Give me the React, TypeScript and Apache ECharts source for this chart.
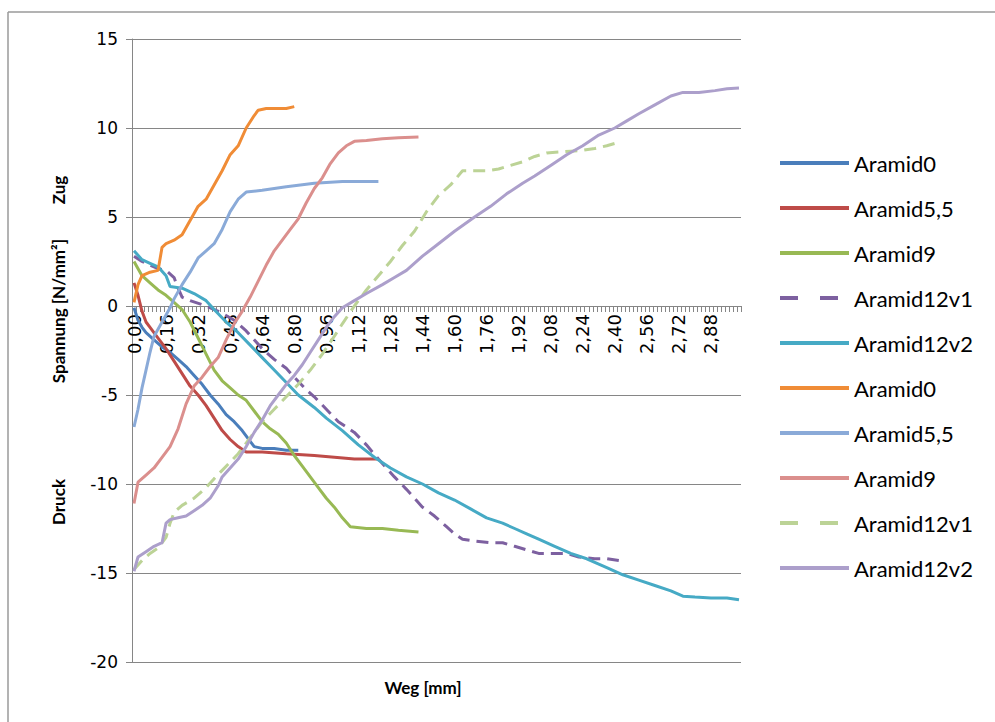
import React, { useEffect, useRef } from "react";
import * as echarts from "echarts";

// x categories (Weg [mm]) step 0.02, labels every 0.16
const categories: string[] = [];
for (let i = 0; i <= 151; i++) categories.push((i * 0.02).toFixed(2).replace(".", ","));

const yTicks = { min: -20, max: 15, interval: 5 };

// [Weg, Spannung]
const aramid0a: number[][] = [
  [0.0, -0.1], [0.02, -0.8], [0.04, -1.2], [0.06, -1.5], [0.1, -1.9], [0.14, -2.3], [0.18, -2.6],
  [0.22, -3.0], [0.26, -3.4], [0.3, -3.9], [0.34, -4.4], [0.38, -5.0], [0.42, -5.5], [0.46, -6.1],
  [0.5, -6.5], [0.54, -7.0], [0.58, -7.6], [0.6, -7.9], [0.64, -8.0], [0.7, -8.0], [0.76, -8.1], [0.82, -8.1],
];
const aramid55a: number[][] = [
  [0.0, 1.3], [0.02, 0.6], [0.04, -0.3], [0.06, -0.9], [0.08, -1.2], [0.12, -1.8], [0.16, -2.4],
  [0.2, -3.1], [0.24, -3.8], [0.28, -4.5], [0.32, -5.0], [0.36, -5.6], [0.4, -6.3], [0.44, -7.0],
  [0.48, -7.5], [0.52, -7.9], [0.56, -8.2], [0.64, -8.2], [0.76, -8.3], [0.9, -8.4], [1.0, -8.5],
  [1.1, -8.6], [1.22, -8.6],
];
const aramid9a: number[][] = [
  [0.0, 2.5], [0.04, 1.7], [0.08, 1.3], [0.12, 0.9], [0.16, 0.6], [0.2, 0.2], [0.24, -0.2],
  [0.28, -0.9], [0.32, -1.8], [0.36, -2.7], [0.4, -3.6], [0.44, -4.2], [0.48, -4.6], [0.52, -5.0],
  [0.56, -5.3], [0.6, -5.9], [0.64, -6.5], [0.68, -6.9], [0.72, -7.2], [0.76, -7.7], [0.8, -8.4],
  [0.84, -9.0], [0.88, -9.6], [0.92, -10.2], [0.96, -10.8], [1.0, -11.3], [1.04, -11.9], [1.08, -12.4],
  [1.16, -12.5], [1.24, -12.5], [1.32, -12.6], [1.42, -12.7],
];
const aramid12v1a: number[][] = [
  [0.0, 2.8], [0.04, 2.5], [0.08, 2.3], [0.12, 2.1], [0.16, 2.0], [0.2, 1.6], [0.22, 1.0], [0.24, 0.5],
  [0.28, 0.3], [0.36, 0.0], [0.44, -0.4], [0.5, -0.8], [0.56, -1.4], [0.6, -1.9], [0.64, -2.4],
  [0.7, -3.0], [0.76, -3.5], [0.8, -4.0], [0.86, -4.7], [0.9, -5.1], [0.96, -5.8], [1.02, -6.5],
  [1.1, -7.1], [1.16, -7.8], [1.22, -8.6], [1.3, -9.6], [1.36, -10.3], [1.44, -11.3], [1.5, -11.8],
  [1.56, -12.4], [1.6, -12.8], [1.64, -13.1], [1.7, -13.2], [1.78, -13.3], [1.84, -13.3], [1.9, -13.5],
  [1.96, -13.7], [2.02, -13.9], [2.1, -13.9], [2.16, -13.9], [2.22, -14.1], [2.3, -14.2], [2.36, -14.2],
  [2.42, -14.3],
];
const aramid12v2a: number[][] = [
  [0.0, 3.1], [0.04, 2.6], [0.08, 2.4], [0.12, 2.2], [0.16, 1.7], [0.18, 1.1], [0.24, 1.0], [0.3, 0.7],
  [0.36, 0.3], [0.4, -0.2], [0.46, -0.9], [0.52, -1.5], [0.58, -2.2], [0.64, -2.9], [0.7, -3.6],
  [0.76, -4.3], [0.82, -5.0], [0.9, -5.7], [0.96, -6.3], [1.04, -7.0], [1.12, -7.8], [1.2, -8.5],
  [1.28, -9.1], [1.36, -9.6], [1.44, -10.0], [1.52, -10.5], [1.6, -10.9], [1.68, -11.4], [1.76, -11.9],
  [1.84, -12.2], [1.9, -12.5], [1.96, -12.8], [2.02, -13.1], [2.1, -13.5], [2.18, -13.9], [2.26, -14.2],
  [2.36, -14.7], [2.44, -15.1], [2.52, -15.4], [2.6, -15.7], [2.68, -16.0], [2.74, -16.3], [2.8, -16.35],
  [2.88, -16.4], [2.96, -16.4], [3.02, -16.5],
];
const aramid0b: number[][] = [
  [0.0, 0.2], [0.02, 1.2], [0.04, 1.7], [0.08, 1.9], [0.12, 2.0], [0.14, 3.3], [0.16, 3.5], [0.2, 3.7],
  [0.24, 4.0], [0.28, 4.8], [0.32, 5.6], [0.36, 6.0], [0.4, 6.8], [0.44, 7.6], [0.48, 8.5], [0.52, 9.0],
  [0.56, 10.0], [0.6, 10.7], [0.62, 11.0], [0.66, 11.1], [0.72, 11.1], [0.76, 11.1], [0.8, 11.2],
];
const aramid55b: number[][] = [
  [0.0, -6.8], [0.02, -5.8], [0.04, -4.6], [0.06, -3.6], [0.08, -2.6], [0.1, -1.7], [0.12, -1.3],
  [0.14, -0.9], [0.16, -0.5], [0.18, -0.1], [0.2, 0.4], [0.24, 1.2], [0.28, 1.9], [0.32, 2.7],
  [0.36, 3.1], [0.4, 3.5], [0.44, 4.3], [0.48, 5.3], [0.52, 6.0], [0.56, 6.4], [0.64, 6.5], [0.76, 6.7],
  [0.9, 6.9], [1.04, 7.0], [1.22, 7.0],
];
const aramid9b: number[][] = [
  [0.0, -11.1], [0.02, -9.9], [0.06, -9.5], [0.1, -9.1], [0.14, -8.5], [0.18, -7.9], [0.22, -6.9],
  [0.26, -5.5], [0.3, -4.5], [0.34, -4.0], [0.38, -3.4], [0.42, -2.9], [0.46, -1.9], [0.5, -1.0],
  [0.54, -0.3], [0.58, 0.5], [0.62, 1.4], [0.66, 2.3], [0.7, 3.1], [0.74, 3.7], [0.78, 4.3], [0.82, 4.9],
  [0.86, 5.8], [0.9, 6.6], [0.94, 7.2], [0.98, 8.0], [1.02, 8.6], [1.06, 9.0], [1.1, 9.25], [1.16, 9.3],
  [1.24, 9.4], [1.32, 9.45], [1.42, 9.5],
];
const aramid12v1b: number[][] = [
  [0.0, -14.8], [0.04, -14.3], [0.08, -13.9], [0.12, -13.6], [0.16, -13.0], [0.18, -12.2], [0.2, -11.6],
  [0.24, -11.2], [0.3, -10.8], [0.36, -10.2], [0.4, -9.7], [0.46, -9.0], [0.52, -8.3], [0.58, -7.4],
  [0.64, -6.5], [0.7, -5.8], [0.76, -5.1], [0.82, -4.4], [0.88, -3.6], [0.94, -2.7], [1.0, -1.7],
  [1.04, -1.0], [1.1, 0.0], [1.16, 0.9], [1.22, 1.7], [1.28, 2.5], [1.34, 3.4], [1.4, 4.2], [1.46, 5.3],
  [1.52, 6.2], [1.58, 6.8], [1.64, 7.6], [1.7, 7.6], [1.76, 7.6], [1.82, 7.7], [1.88, 7.9], [1.94, 8.1],
  [2.0, 8.4], [2.06, 8.6], [2.12, 8.65], [2.18, 8.7], [2.24, 8.75], [2.3, 8.85], [2.36, 9.0], [2.42, 9.2],
];
const aramid12v2b: number[][] = [
  [0.0, -14.9], [0.02, -14.1], [0.06, -13.8], [0.1, -13.5], [0.14, -13.3], [0.16, -12.2], [0.18, -12.0],
  [0.22, -11.9], [0.26, -11.8], [0.3, -11.5], [0.34, -11.2], [0.38, -10.8], [0.42, -10.1], [0.44, -9.6],
  [0.48, -9.1], [0.52, -8.6], [0.56, -7.9], [0.6, -7.1], [0.64, -6.4], [0.68, -5.6], [0.72, -5.0],
  [0.76, -4.4], [0.8, -3.9], [0.84, -3.3], [0.88, -2.6], [0.92, -1.9], [0.96, -1.2], [1.0, -0.6],
  [1.04, -0.1], [1.1, 0.3], [1.16, 0.7], [1.24, 1.2], [1.3, 1.6], [1.36, 2.0], [1.44, 2.8], [1.52, 3.5],
  [1.6, 4.2], [1.7, 5.0], [1.78, 5.6], [1.86, 6.3], [1.94, 6.9], [2.0, 7.3], [2.08, 7.9], [2.16, 8.5],
  [2.24, 9.0], [2.32, 9.6], [2.4, 10.0], [2.46, 10.4], [2.52, 10.8], [2.6, 11.3], [2.68, 11.8],
  [2.74, 12.0], [2.82, 12.0], [2.9, 12.1], [2.96, 12.2], [3.02, 12.25],
];

const seriesNames = [
  "Aramid0", "Aramid5,5", "Aramid9", "Aramid12v1", "Aramid12v2",
  "Aramid0", "Aramid5,5", "Aramid9", "Aramid12v1", "Aramid12v2",
];
const seriesData = [
  aramid0a, aramid55a, aramid9a, aramid12v1a, aramid12v2a,
  aramid0b, aramid55b, aramid9b, aramid12v1b, aramid12v2b,
];
const seriesColors = [
  "#4A7EBB", "#BE4B48", "#98B954", "#7D60A0", "#46AAC5",
  "#F08C36", "#8AAAD8", "#DB8F8D", "#BCD396", "#AC9FCB",
];
const dashed = [false, false, false, true, false, false, false, false, true, false];

const fmt = (x: number) => x.toFixed(2).replace(".", ",");

// plot geometry
const GRID_TOP = 39;
const GRID_HEIGHT = 623;
const zeroOffset = -(GRID_HEIGHT * (0 - yTicks.min)) / (yTicks.max - yTicks.min);

export default function App() {
  const ref = useRef<HTMLDivElement>(null);
  useEffect(() => {
    if (!ref.current) return;
    const chart = echarts.init(ref.current, null, { renderer: "svg" });
    const uid = (i: number) => seriesNames[i] + (i >= 5 ? "#b" : "#a");
    const series = seriesData.map((d, i) => ({
      type: "line",
      name: uid(i),
      data: d.map(([x, y]) => [fmt(x), y]),
      symbol: "none",
      color: seriesColors[i],
      lineStyle: { width: 3, color: seriesColors[i], type: dashed[i] ? [12, 7] : "solid" },
      z: 2,
    }));
    const legendData = seriesNames.map((n, i) => ({
      name: uid(i),
      lineStyle: dashed[i] ? { type: [18, 22], width: 4 } : { width: 4 },
    }));
    chart.setOption({
      animation: false,
      backgroundColor: "#ffffff",
      grid: { left: 132, top: GRID_TOP, width: 609, height: GRID_HEIGHT, containLabel: false },
      xAxis: {
        type: "category",
        data: categories,
        boundaryGap: true,
        position: "bottom",
        offset: zeroOffset,
        axisLine: { onZero: false, lineStyle: { color: "#868686", width: 1 } },
        axisTick: { show: true, interval: 0, length: 6, lineStyle: { color: "#868686" } },
        axisLabel: {
          interval: 7,
          rotate: 90,
          margin: 8,
          fontFamily: "DejaVu Sans",
          fontSize: 18,
          color: "#000",
        },
        splitLine: { show: false },
      },
      yAxis: {
        type: "value",
        min: yTicks.min,
        max: yTicks.max,
        interval: yTicks.interval,
        axisLine: { show: true, onZero: false, lineStyle: { color: "#868686" } },
        axisTick: { show: true, length: 6, lineStyle: { color: "#868686" } },
        axisLabel: { margin: 14, fontFamily: "DejaVu Sans", fontSize: 17, color: "#000" },
        splitLine: { show: true, lineStyle: { color: "#868686", width: 1 } },
      },
      legend: {
        orient: "vertical",
        left: 773,
        top: 147,
        itemWidth: 69,
        itemHeight: 14,
        itemGap: 23,
        data: legendData,
        formatter: (name: string) => name.replace(/#[ab]$/, ""),
        itemStyle: { opacity: 0 },
        textStyle: { fontFamily: "Lato", fontSize: 22, color: "#000" },
        selectedMode: false,
      },
      graphic: [
        { type: "line", shape: { x1: 8, y1: 12, x2: 1000, y2: 12 }, style: { stroke: "#9a9a9a", lineWidth: 1.5 } },
        { type: "line", shape: { x1: 8, y1: 12, x2: 8, y2: 730 }, style: { stroke: "#9a9a9a", lineWidth: 1.5 } },
        {
          type: "text", x: 58, y: 190, rotation: Math.PI / 2,
          style: { text: "Zug", fontFamily: "Lato", fontWeight: "bold", fontSize: 17, fill: "#000", align: "center", verticalAlign: "middle" },
        },
        {
          type: "text", x: 58, y: 311, rotation: Math.PI / 2,
          style: { text: "Spannung [N/mm²]", fontFamily: "Lato", fontWeight: "bold", fontSize: 17, fill: "#000", align: "center", verticalAlign: "middle" },
        },
        {
          type: "text", x: 58, y: 502, rotation: Math.PI / 2,
          style: { text: "Druck", fontFamily: "Lato", fontWeight: "bold", fontSize: 17, fill: "#000", align: "center", verticalAlign: "middle" },
        },
        {
          type: "text", x: 423, y: 687,
          style: { text: "Weg [mm]", fontFamily: "Lato", fontWeight: "bold", fontSize: 17, fill: "#000", align: "center", verticalAlign: "middle" },
        },
      ],
      series,
    });
    return () => chart.dispose();
  }, []);
  return (
    <div
      ref={ref}
      style={{ position: "fixed", left: 0, top: 0, width: 995, height: 722 }}
    />
  );
}
